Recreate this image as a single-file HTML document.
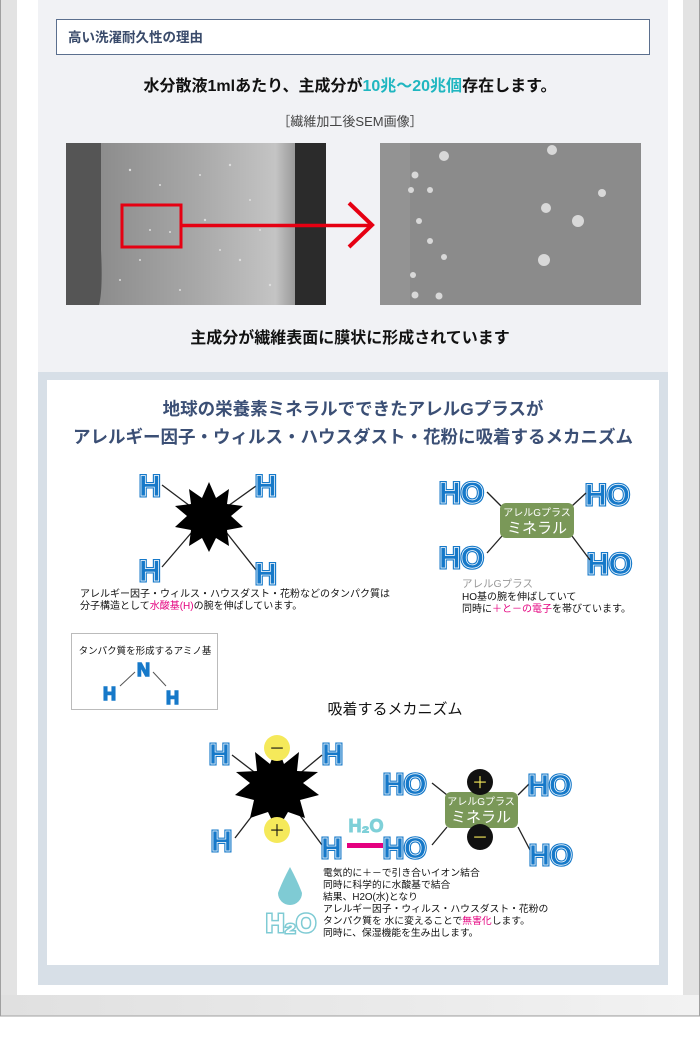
<!DOCTYPE html>
<html><head><meta charset="utf-8"><style>
body{margin:0;width:700px;height:1055px;background:#fff;overflow:hidden;font-family:"Liberation Sans","Noto Sans CJK JP",sans-serif}
</style></head><body>
<svg width="700" height="1055" viewBox="0 0 700 1055" xmlns="http://www.w3.org/2000/svg" font-family="Liberation Sans, Noto Sans CJK JP, sans-serif">
<defs>
<linearGradient id="fg" x1="0" x2="1"><stop offset="0" stop-color="#8c8c8c"/><stop offset="0.5" stop-color="#a8a8a8"/><stop offset="0.9" stop-color="#c4c4c4"/><stop offset="1" stop-color="#9a9a9a"/></linearGradient>
<linearGradient id="bot" x1="0" x2="1"><stop offset="0" stop-color="#e0e0e0"/><stop offset="1" stop-color="#f2f2f2"/></linearGradient>
</defs>
<rect x="0.5" y="-1" width="699" height="1017" fill="#e3e3e3" stroke="#a0a0a0"/>
<rect x="1" y="995" width="698" height="20" fill="url(#bot)"/>
<rect x="17" y="0" width="666" height="995" fill="#fff"/>
<rect x="38" y="0" width="630" height="372" fill="#f1f2f5"/>
<rect x="38" y="372" width="630" height="613" fill="#d7dfe7"/>
<rect x="47" y="380" width="612" height="585" fill="#fff"/>
<rect x="56.5" y="19.5" width="593" height="35" fill="#fff" stroke="#5b6f8e"/>
<text x="68" y="42" font-size="13.5" font-weight="bold" fill="#3a4b6b">高い洗濯耐久性の理由</text>
<text x="350" y="91" text-anchor="middle" font-size="16" font-weight="bold" fill="#111">水分散液1mlあたり、主成分が<tspan fill="#1fb6c0">10兆～20兆個</tspan>存在します。</text>
<text x="350" y="126" text-anchor="middle" font-size="13" fill="#444">［繊維加工後SEM画像］</text>
<rect x="66" y="143" width="260" height="162" fill="#555"/>
<rect x="295" y="143" width="31" height="162" fill="#2b2b2b"/>
<path d="M101 143 H295 V305 H99 Q103 290 101 250 Z" fill="url(#fg)"/>
<g fill="#ddd">
<circle cx="130" cy="170" r="1.2"/><circle cx="160" cy="185" r="1"/><circle cx="230" cy="165" r="1.2"/><circle cx="250" cy="200" r="1"/><circle cx="205" cy="220" r="1.2"/><circle cx="150" cy="230" r="1"/><circle cx="170" cy="232" r="1"/><circle cx="240" cy="260" r="1.2"/><circle cx="120" cy="280" r="1"/><circle cx="180" cy="290" r="1"/><circle cx="270" cy="285" r="1.2"/><circle cx="220" cy="250" r="1"/><circle cx="140" cy="260" r="1"/><circle cx="260" cy="230" r="1"/><circle cx="200" cy="175" r="1"/>
</g>
<rect x="122" y="205" width="59" height="42" fill="none" stroke="#e60012" stroke-width="3"/>
<line x1="182" y1="225.5" x2="372" y2="225.5" stroke="#e60012" stroke-width="3.5"/>
<polyline points="349,203 372,225 349,247" fill="none" stroke="#e60012" stroke-width="4"/>
<rect x="380" y="143" width="261" height="162" fill="#8b8b8b"/>
<rect x="380" y="143" width="30" height="162" fill="#939393"/>
<g fill="#d8d8d8">
<circle cx="444" cy="156" r="5"/><circle cx="552" cy="150" r="5"/><circle cx="415" cy="175" r="3.5"/><circle cx="411" cy="190" r="3"/><circle cx="430" cy="190" r="3"/><circle cx="546" cy="208" r="5"/><circle cx="578" cy="221" r="6"/><circle cx="602" cy="193" r="4"/><circle cx="419" cy="221" r="3"/><circle cx="430" cy="241" r="3"/><circle cx="544" cy="260" r="6"/><circle cx="444" cy="257" r="3"/><circle cx="413" cy="275" r="3"/><circle cx="415" cy="295" r="3.5"/><circle cx="439" cy="296" r="3.5"/>
</g>
<text x="350" y="343" text-anchor="middle" font-size="16" font-weight="bold" fill="#111">主成分が繊維表面に膜状に形成されています</text>
<text x="353" y="415" text-anchor="middle" font-size="17.5" font-weight="bold" fill="#3b4f75">地球の栄養素ミネラルでできたアレルGプラスが</text>
<text x="353" y="443" text-anchor="middle" font-size="17.5" font-weight="bold" fill="#3b4f75">アレルギー因子・ウィルス・ハウスダスト・花粉に吸着するメカニズム</text>
<g stroke="#222" stroke-width="1.3">
<line x1="162" y1="485" x2="190" y2="506"/><line x1="256" y1="486" x2="228" y2="506"/>
<line x1="162" y1="567" x2="192" y2="532"/><line x1="256" y1="570" x2="226" y2="532"/>
</g>
<polygon points="209,482 216,498 229,489 227,504 243,506 231,516 243,527 227,530 229,546 216,538 209,552 202,538 189,546 191,530 175,527 187,516 175,506 191,504 189,489 202,498" fill="#000"/>
<g font-size="30" font-weight="bold" font-family="Liberation Sans, sans-serif" fill="#1679c9" stroke="#1679c9" stroke-width="3">
<text x="139" y="496">H</text><text x="255" y="496">H</text><text x="139" y="581">H</text><text x="255" y="584">H</text>
<text x="439" y="503">HO</text><text x="585" y="505">HO</text><text x="439" y="568">HO</text><text x="587" y="574">HO</text>
</g>
<g font-size="30" font-weight="bold" font-family="Liberation Sans, sans-serif" fill="none" stroke="#fff" stroke-width="0.7">
<text x="139" y="496">H</text><text x="255" y="496">H</text><text x="139" y="581">H</text><text x="255" y="584">H</text>
<text x="439" y="503">HO</text><text x="585" y="505">HO</text><text x="439" y="568">HO</text><text x="587" y="574">HO</text>
</g>
<g stroke="#222" stroke-width="1.3">
<line x1="487" y1="492" x2="502" y2="507"/><line x1="586" y1="493" x2="572" y2="506"/>
<line x1="487" y1="553" x2="502" y2="536"/><line x1="590" y1="560" x2="572" y2="536"/>
</g>
<rect x="500" y="503" width="74" height="35" rx="6" fill="#7a9858"/>
<text x="537" y="516" text-anchor="middle" font-size="10" fill="#fff">アレルGプラス</text>
<text x="537" y="533" text-anchor="middle" font-size="15" fill="#fff">ミネラル</text>
<text x="80" y="597" font-size="10" fill="#111">アレルギー因子・ウィルス・ハウスダスト・花粉などのタンパク質は</text>
<text x="80" y="609" font-size="10" fill="#111">分子構造として<tspan fill="#e4007f">水酸基(H)</tspan>の腕を伸ばしています。</text>
<text x="462" y="587" font-size="10.5" fill="#999">アレルGプラス</text>
<text x="462" y="600" font-size="10" fill="#111">HO基の腕を伸ばしていて</text>
<text x="462" y="612" font-size="10" fill="#111">同時に<tspan fill="#e4007f">＋と－の電子</tspan>を帯びています。</text>
<rect x="71.5" y="633.5" width="146" height="76" fill="#fff" stroke="#bbb"/>
<text x="145" y="654" text-anchor="middle" font-size="9.5" fill="#111">タンパク質を形成するアミノ基</text>
<g stroke="#555" stroke-width="1"><line x1="135" y1="672" x2="120" y2="686"/><line x1="153" y1="672" x2="166" y2="686"/></g>
<g font-size="18" font-weight="bold" font-family="Liberation Sans, sans-serif" fill="#1679c9" stroke="#1679c9" stroke-width="1.5">
<text x="137" y="676">N</text><text x="103" y="700">H</text><text x="166" y="704">H</text></g>
<text x="395" y="714" text-anchor="middle" font-size="15" fill="#111">吸着するメカニズム</text>
<g stroke="#222" stroke-width="1.3">
<line x1="232" y1="755" x2="258" y2="775"/><line x1="322" y1="755" x2="298" y2="775"/>
<line x1="235" y1="838" x2="258" y2="808"/><line x1="322" y1="845" x2="296" y2="810"/>
<line x1="432" y1="783" x2="447" y2="795"/><line x1="530" y1="783" x2="518" y2="795"/>
<line x1="432" y1="845" x2="447" y2="827"/><line x1="530" y1="850" x2="518" y2="827"/>
</g>
<polygon points="277,745 284,764 299,752 297,771 318,772 303,783 319,795 300,800 305,818 288,812 277,831 268,812 250,818 254,800 235,795 250,783 236,772 257,771 255,752 270,764" fill="#000"/>
<circle cx="277" cy="748" r="13" fill="#f5e95a"/><text x="277" y="754" text-anchor="middle" font-size="16" fill="#111">－</text>
<circle cx="277" cy="830" r="13" fill="#f5e95a"/><text x="277" y="836" text-anchor="middle" font-size="16" fill="#111">＋</text>
<rect x="347" y="843" width="36" height="5" fill="#e4007f"/>
<text x="366" y="832" text-anchor="middle" font-size="18" font-weight="bold" fill="#7fd0d8" stroke="#7fd0d8" stroke-width="1">H₂O</text>
<g font-size="29" font-weight="bold" font-family="Liberation Sans, sans-serif" fill="#1679c9" stroke="#1679c9" stroke-width="3">
<text x="209" y="764">H</text><text x="322" y="764">H</text><text x="211" y="851">H</text><text x="321" y="858">H</text>
<text x="383" y="858">HO</text><text x="383" y="794">HO</text><text x="528" y="795">HO</text><text x="529" y="865">HO</text>
</g>
<g font-size="29" font-weight="bold" font-family="Liberation Sans, sans-serif" fill="none" stroke="#fff" stroke-width="0.7">
<text x="209" y="764">H</text><text x="322" y="764">H</text><text x="211" y="851">H</text><text x="321" y="858">H</text>
<text x="383" y="858">HO</text><text x="383" y="794">HO</text><text x="528" y="795">HO</text><text x="529" y="865">HO</text>
</g>
<rect x="445" y="792" width="73" height="36" rx="6" fill="#7a9858"/>
<text x="481" y="805" text-anchor="middle" font-size="10" fill="#fff">アレルGプラス</text>
<text x="481" y="822" text-anchor="middle" font-size="15" fill="#fff">ミネラル</text>
<circle cx="480" cy="782" r="13" fill="#111"/><text x="480" y="788" text-anchor="middle" font-size="16" fill="#f5e95a">＋</text>
<circle cx="480" cy="837" r="13" fill="#111"/><text x="480" y="843" text-anchor="middle" font-size="16" fill="#f5e95a">－</text>
<path d="M290 867 Q282 882 278 893 A12 12 0 1 0 302 893 Q298 882 290 867 Z" fill="#7fcbd4"/>
<text x="291" y="932" text-anchor="middle" font-size="26" font-weight="bold" fill="#fff" stroke="#7fcbd4" stroke-width="3" paint-order="stroke">H₂O</text>
<g font-size="9.8" fill="#111">
<text x="323" y="876">電気的に＋－で引き合いイオン結合</text>
<text x="323" y="888">同時に科学的に水酸基で結合</text>
<text x="323" y="900">結果、H2O(水)となり</text>
<text x="323" y="912">アレルギー因子・ウィルス・ハウスダスト・花粉の</text>
<text x="323" y="924">タンパク質を 水に変えることで<tspan fill="#e4007f">無害化</tspan>します。</text>
<text x="323" y="936">同時に、保湿機能を生み出します。</text>
</g>
</svg>
</body></html>
